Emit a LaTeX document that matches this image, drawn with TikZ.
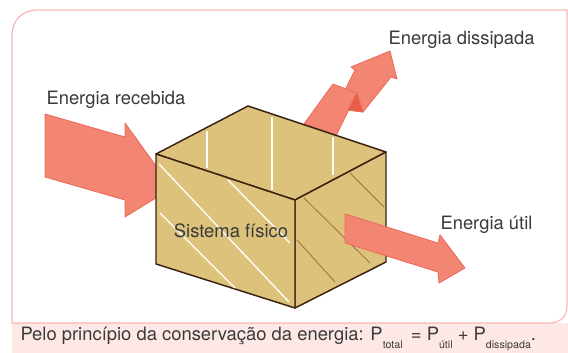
\documentclass[tikz,border=0pt]{standalone}
\usepackage{fontspec}
\setmainfont{TeX Gyre Heros}
\definecolor{framepink}{RGB}{246,184,182}
\definecolor{bandpink}{RGB}{253,232,230}
\definecolor{arrowred}{RGB}{243,133,115}
\definecolor{arrowedge}{RGB}{236,104,88}
\definecolor{folddark}{RGB}{232,92,74}
\definecolor{boxtan}{RGB}{220,194,122}
\definecolor{boxedge}{RGB}{58,34,18}
\definecolor{grainbrown}{RGB}{160,112,62}
\definecolor{textgray}{RGB}{58,58,58}
\newcommand{\lowsub}[1]{\raisebox{-0.8ex}{\fontsize{8}{8}\selectfont #1}}
\tikzset{
blockarrow/.style={fill=arrowred, draw=arrowedge, line width=0.6pt, line join=round},
boxface/.style={fill=boxtan, draw=boxedge, line width=1.1pt, line join=round},
whitegrain/.style={draw=white, line width=1pt},
browngrain/.style={draw=grainbrown, line width=0.6pt},
label/.style={text=textgray, font=\fontsize{13.8}{15}\selectfont, inner sep=0pt}}
\tikzset{every picture/.style={line width=0.75pt}}

\begin{document}
\begin{tikzpicture}[x=0.75pt,y=0.75pt,yscale=-1,xscale=1]
\path[use as bounding box] (0,0) rectangle (568,353);

%Shape: caption band
\fill[bandpink] (12,323) rectangle (568,353);
%Shape: frame
\draw[framepink, line width=0.9pt] (12,323) -- (12,36) .. controls (12,20) and (22,10) .. (38,10) -- (567,10) -- (567,306) .. controls (567,317) and (560,323) .. (549,323) -- cycle ;

%Shape: incoming arrow
\draw[blockarrow] (45,114) -- (125,137) -- (125,123) -- (172,188) -- (125,217) -- (125,200) -- (45,177) -- cycle ;
%Shape: dissipated arrow, upper part
\draw[blockarrow] (344,92) -- (355,70) -- (351,67) -- (390,51) -- (397,79) -- (391,77) -- (363,112) -- (348,110) -- cycle ;
%Shape: dissipated arrow, lower part
\draw[blockarrow] (301,128) -- (333,84) -- (357,93) -- (335,138) -- cycle ;
%Shape: fold
\draw[blockarrow, fill=folddark] (357,93) -- (363,112) -- (348,110) -- cycle ;

%Shape: box, top face
\draw[boxface] (156,154) -- (248,106) -- (386,152) -- (295,200) -- cycle ;
%Shape: box, right face
\draw[boxface] (295,200) -- (386,152) -- (386,262) -- (295,308) -- cycle ;
%Shape: box, front face
\draw[boxface] (156,154) -- (295,200) -- (295,308) -- (156,264) -- cycle ;

%Straight Lines: grain on the top
\draw[whitegrain] (207,131) -- (207,168) ;
\draw[whitegrain] (272,117) -- (272,190) ;
\draw[whitegrain] (333,137) -- (333,175) ;
%Straight Lines: grain on the front
\draw[whitegrain] (159,164) -- (289,302) ;
\draw[whitegrain] (228,180) -- (290,243) ;
\draw[whitegrain] (160,213) -- (235,288) ;
%Straight Lines: grain on the right
\draw[browngrain] (350,173) -- (384,207) ;
\draw[browngrain] (304,198) -- (370,263) ;
\draw[browngrain] (297,240) -- (335,282) ;

%Shape: useful arrow
\draw[blockarrow] (345,214) -- (438,243) -- (440,235) -- (465,268) -- (439,283) -- (438,272) -- (345,243) -- cycle ;

% Text Node
\draw (46,100) node[label, anchor=west] (recebida) {Energia recebida};
% Text Node
\draw (388,40) node[label, anchor=west] (dissipada) {Energia dissipada};
% Text Node
\draw (440,225) node[label, anchor=west] (util) {Energia útil};
% Text Node
\draw (231,231) node[label] (sistema) {Sistema físico};
% Text Node
\draw (20,339) node[label, anchor=west] (principio) {Pelo princípio da conservação da energia: P\lowsub{total}\ \,= P\lowsub{útil}\ + P\lowsub{dissipada}.};

\end{tikzpicture}
\end{document}
